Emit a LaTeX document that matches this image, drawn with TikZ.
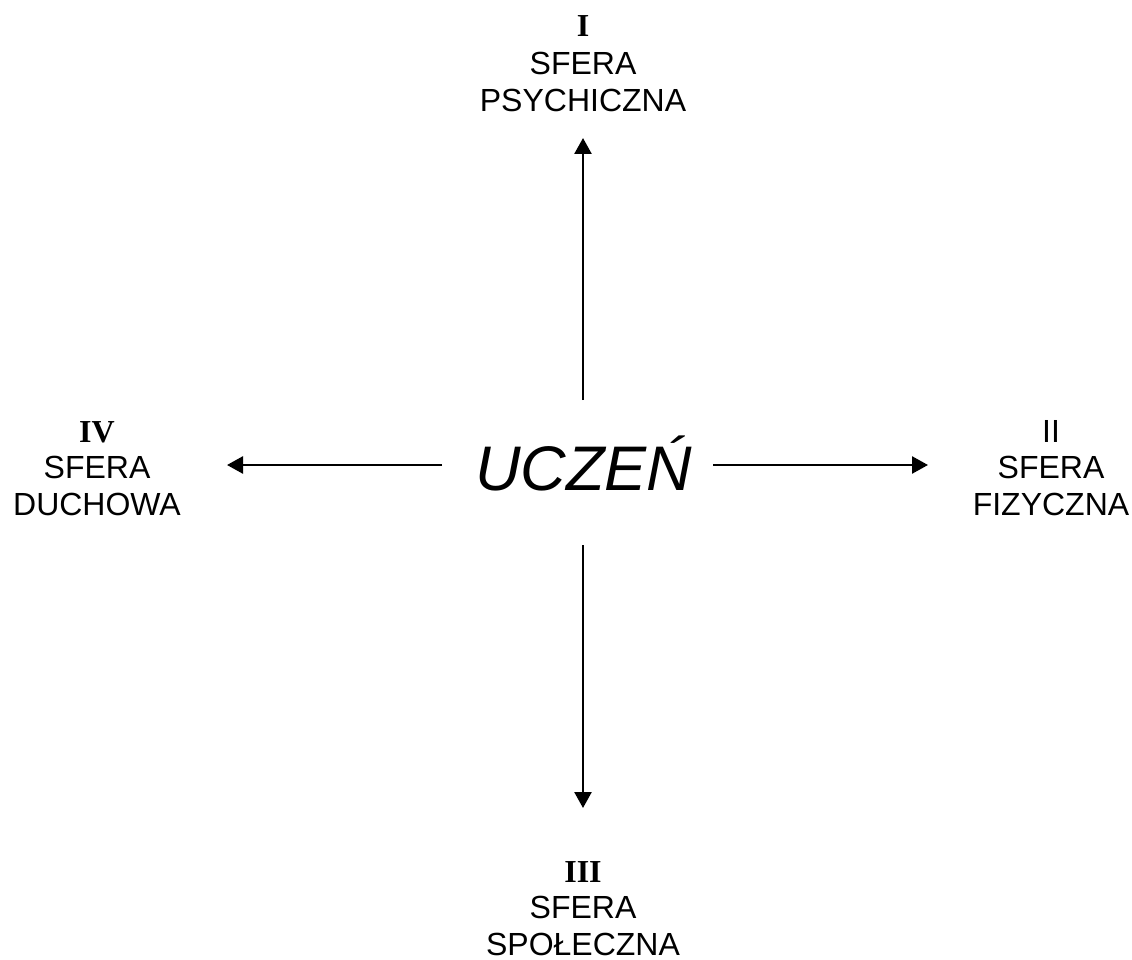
\documentclass[tikz,border=0pt]{standalone}
\usepackage{fontspec}
\setmainfont{Liberation Sans}
\newfontfamily\romanfont{Liberation Serif}
\usetikzlibrary{arrows.meta}
\tikzset{
  lbl/.style={anchor=base, inner sep=0pt, font=\fontsize{32}{37}\selectfont},
  num/.style={anchor=base, inner sep=0pt, font=\fontsize{32}{37}\selectfont\romanfont\bfseries},
  arr/.style={line width=2.5pt, -{Triangle[length=16pt,width=17pt]}},
}
\begin{document}
\begin{tikzpicture}[x=1pt,y=-1pt]
\useasboundingbox (0,0) rectangle (1132,960);
% centre
\node[anchor=base, inner sep=0pt, font=\fontsize{63}{75}\selectfont\itshape] (c) at (584,490) {UCZEŃ};
% top
\node[num] (n1) at (583,37) {I};
\node[lbl] (s1) at (583,75) {SFERA};
\node[lbl] (p1) at (583,112) {PSYCHICZNA};
% right
\node[lbl] (n2) at (1051,442) {II};
\node[lbl] (s2) at (1051,478) {SFERA};
\node[lbl] (p2) at (1051,515) {FIZYCZNA};
% bottom
\node[num] (n3) at (583,882) {III};
\node[lbl] (s3) at (583,918) {SFERA};
\node[lbl] (p3) at (583,955) {SPOŁECZNA};
% left
\node[num] (n4) at (97,442) {IV};
\node[lbl] (s4) at (97,478) {SFERA};
\node[lbl] (p4) at (97,515) {DUCHOWA};
% arrow end points
\coordinate (uS) at (583,400); \coordinate (uE) at (583,138);
\coordinate (dS) at (583,545); \coordinate (dE) at (583,808);
\coordinate (lS) at (442,465); \coordinate (lE) at (227,465);
\coordinate (rS) at (713,465); \coordinate (rE) at (928,465);
\draw[arr] (uS) -- (uE);
\draw[arr] (dS) -- (dE);
\draw[arr] (lS) -- (lE);
\draw[arr] (rS) -- (rE);
\end{tikzpicture}
\end{document}
